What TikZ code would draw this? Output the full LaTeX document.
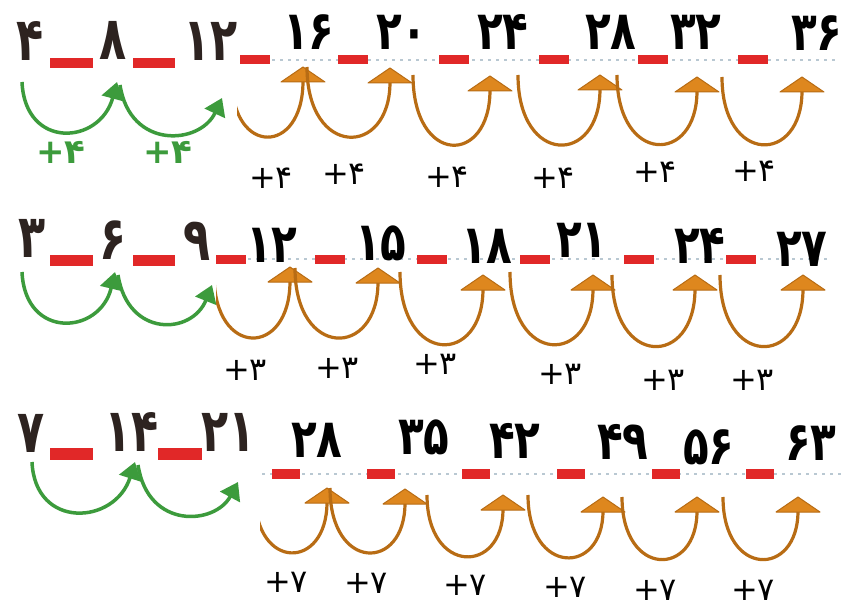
\documentclass[tikz,border=0pt]{standalone}
\usepackage{fontspec}
\newfontfamily\lnumfont[FakeStretch=0.74]{DejaVu Sans Bold}
\newfontfamily\rnumfont[FakeStretch=0.78]{DejaVu Sans Bold}
\newfontfamily\glabfont{DejaVu Sans Bold}
\newfontfamily\olabfont{DejaVu Sans}
\usetikzlibrary{arrows.meta}
\definecolor{numbrown}{RGB}{45,35,32}
\definecolor{dashred}{RGB}{225,40,40}
\definecolor{jgreen}{RGB}{60,155,60}
\definecolor{oline}{RGB}{184,108,20}
\definecolor{ofill}{RGB}{222,135,30}
\definecolor{dotc}{RGB}{185,200,210}
\tikzset{
 lnum/.style={text=numbrown, font=\lnumfont\fontsize{60}{60}\selectfont, inner sep=0pt},
 rnum/.style={text=black, font=\rnumfont\fontsize{54}{54}\selectfont, inner sep=0pt},
 glab/.style={text=jgreen, font=\glabfont\fontsize{34}{34}\selectfont, inner sep=0pt},
 olab/.style={text=black, font=\olabfont\fontsize{32}{32}\selectfont, inner sep=0pt},
 reddash/.style={fill=dashred},
 dotline/.style={draw=dotc, line width=2pt, dash pattern=on 3pt off 5pt},
 garc/.style={draw=jgreen, line width=3.5pt, -{Triangle[width=22pt,length=17pt]}},
 oarcline/.style={draw=oline, line width=3.2pt},
 ohead/.style={fill=ofill, draw=oline, line width=1pt, line join=round},
}
\newcommand\oarc[5]{%
  \draw[oarcline] (#1,#2) .. controls (#1,#5) and (#3,#5) .. (#3,{#4+14});
  \filldraw[ohead] (#3,#4) -- ({#3-22},{#4+15}) -- ({#3+22},{#4+15}) -- cycle;
}
\begin{document}
\begin{tikzpicture}[x=1pt,y=-1pt]
\useasboundingbox[fill=white] (0,0) rectangle (847,607);

% ---------- Row 1 ----------
\node[lnum] (l11) at (30,41) {۴};
\node[lnum] (l12) at (113,40) {۸};
\node[lnum] (l13) at (211,41) {۱۲};
\fill[reddash] (50,58) rectangle (93,68);
\fill[reddash] (133,58) rectangle (175,68);
\draw[garc] (22,82) .. controls (25,150) and (100,145) .. (117,82);
\draw[garc] (120,85) .. controls (130,150) and (200,145) .. (222,98);
\node[glab] (g11) at (61,152) {+۴};
\node[glab] (g12) at (168,152) {+۴};

\draw[dotline] (240,60) -- (838,60);
\foreach \x in {240,338,439,539,638,738} \fill[reddash] (\x,55) rectangle ({\x+30},64);
\node[rnum] (r11) at (309,32) {۱۶};
\node[rnum] (r12) at (402,32) {۲۰};
\node[rnum] (r13) at (503,32) {۲۴};
\node[rnum] (r14) at (611,32) {۲۸};
\node[rnum] (r15) at (696,32) {۳۲};
\node[rnum] (r16) at (817,33) {۳۶};
\begin{scope}
\clip (237,0) rectangle (847,200);
\oarc{232}{80}{303}{67}{156}
\end{scope}
\oarc{307}{67}{390}{68}{158}
\oarc{413}{75}{490}{76}{166}
\oarc{518}{75}{600}{75}{166}
\oarc{617}{75}{697}{77}{165}
\oarc{722}{77}{802}{77}{165}
\node[olab] (p11) at (271,178) {+۴};
\node[olab] (p12) at (344,174) {+۴};
\node[olab] (p13) at (447,177) {+۴};
\node[olab] (p14) at (553,178) {+۴};
\node[olab] (p15) at (655,172) {+۴};
\node[olab] (p16) at (754,171) {+۴};

% ---------- Row 2 ----------
\node[lnum] (l21) at (32,238) {۳};
\node[lnum] (l22) at (113,240) {۶};
\node[lnum] (l23) at (197,241) {۹};
\fill[reddash] (50,255) rectangle (93,266);
\fill[reddash] (133,255) rectangle (175,266);
\draw[garc] (22,272) .. controls (25,340) and (100,335) .. (115,272);
\draw[garc] (118,275) .. controls (128,338) and (192,335) .. (212,285);

\draw[dotline] (216,259) -- (830,259);
\foreach \x in {216,315,417,520,624,726} \fill[reddash] (\x,255) rectangle ({\x+30},264);
\node[rnum] (r21) at (272,245) {۱۲};
\node[rnum] (r22) at (381,243) {۱۵};
\node[rnum] (r23) at (487,246) {۱۸};
\node[rnum] (r24) at (582,240) {۲۱};
\node[rnum] (r25) at (700,246) {۲۴};
\node[rnum] (r26) at (802,249) {۲۷};
\begin{scope}
\clip (216,200) rectangle (847,400);
\oarc{214}{275}{290}{267}{358}
\end{scope}
\oarc{295}{268}{378}{268}{359}
\oarc{400}{272}{483}{275}{366}
\oarc{510}{272}{593}{275}{366}
\oarc{612}{275}{695}{275}{368}
\oarc{720}{275}{803}{275}{368}
\node[olab] (p21) at (245,370) {+۳};
\node[olab] (p22) at (337,368) {+۳};
\node[olab] (p23) at (435,364) {+۳};
\node[olab] (p24) at (560,374) {+۳};
\node[olab] (p25) at (663,380) {+۳};
\node[olab] (p26) at (752,380) {+۳};

% ---------- Row 3 ----------
\node[lnum] (l31) at (31,433) {۷};
\node[lnum] (l32) at (132,432) {۱۴};
\node[lnum] (l33) at (229,432) {۲۱};
\fill[reddash] (50,448) rectangle (93,460);
\fill[reddash] (158,448) rectangle (202,460);
\draw[garc] (32,462) .. controls (35,530) and (115,525) .. (135,462);
\draw[garc] (138,465) .. controls (148,530) and (215,525) .. (238,482);

\draw[dotline] (262,474) -- (845,474);
\foreach \x in {272,367,462,557,652,746} \fill[reddash] (\x,469) rectangle ({\x+28},479);
\node[rnum] (r31) at (317,440) {۲۸};
\node[rnum] (r32) at (424,437) {۳۵};
\node[rnum] (r33) at (515,441) {۴۲};
\node[rnum] (r34) at (623,442) {۴۹};
\node[rnum] (r35) at (709,447) {۵۶};
\node[rnum] (r36) at (811,443) {۶۳};
\begin{scope}
\clip (260,400) rectangle (847,607);
\oarc{255}{495}{327}{488}{571}
\end{scope}
\oarc{330}{488}{405}{489}{572}
\oarc{427}{495}{503}{495}{575}
\oarc{528}{495}{603}{497}{576}
\oarc{622}{497}{697}{497}{578}
\oarc{723}{497}{798}{497}{578}
\node[olab] (p31) at (286,582) {+۷};
\node[olab] (p32) at (366,583) {+۷};
\node[olab] (p33) at (465,585) {+۷};
\node[olab] (p34) at (565,587) {+۷};
\node[olab] (p35) at (655,590) {+۷};
\node[olab] (p36) at (753,590) {+۷};
\end{tikzpicture}
\end{document}
